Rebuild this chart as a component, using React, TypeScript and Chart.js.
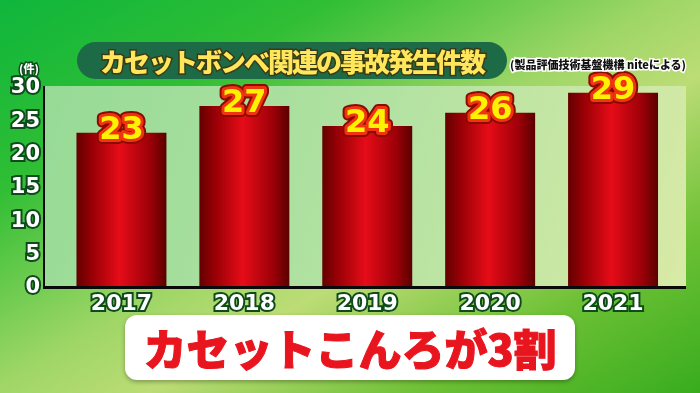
import React, { useEffect, useRef } from "react";
import { Chart, registerables } from "chart.js";

Chart.register(...registerables);

const years = ["2017", "2018", "2019", "2020", "2021"];
const accidents = [23, 27, 24, 26, 29];
const yTicks = [0, 5, 10, 15, 20, 25, 30];
const titleText = "カセットボンベ関連の事故発生件数";
const sourceText = "(製品評価技術基盤機構 niteによる)";
const unitText = "(件)";
const bannerText = "カセットこんろが3割";

const JP = '"Noto Sans CJK JP", "Noto Sans", sans-serif';
const NUM = '"DejaVu Sans", "Noto Sans", sans-serif';

const BAR_PCT = 0.732;

const bgPlugin = {
  id: "plotBg",
  beforeDraw(chart: any) {
    const { ctx, chartArea } = chart;
    const left = 44;
    const right = 686;
    const top = chartArea.top;
    const bottom = chartArea.bottom;
    ctx.save();
    const g = ctx.createLinearGradient(left, top, right, bottom);
    g.addColorStop(0, "#96da96");
    g.addColorStop(0.5, "#b2e2a2");
    g.addColorStop(1, "#d8eaa6");
    ctx.fillStyle = g;
    ctx.fillRect(left, top, right - left, bottom - top + 1);
    ctx.restore();
  },
  afterDatasetsDraw(chart: any) {
    const { ctx, chartArea } = chart;
    ctx.save();
    ctx.strokeStyle = "#0a0a0a";
    ctx.lineWidth = 2;
    ctx.beginPath();
    ctx.moveTo(44, chartArea.top);
    ctx.lineTo(44, chartArea.bottom + 2);
    ctx.stroke();
    ctx.lineWidth = 3;
    ctx.beginPath();
    ctx.moveTo(43, chartArea.bottom + 1.5);
    ctx.lineTo(686, chartArea.bottom + 1.5);
    ctx.stroke();

    // value labels
    const meta = chart.getDatasetMeta(0);
    ctx.font = `bold 32px ${NUM}`;
    ctx.textAlign = "center";
    ctx.textBaseline = "middle";
    ctx.lineJoin = "round";
    meta.data.forEach((bar: any, i: number) => {
      const v = String(chart.data.datasets[0].data[i]);
      const x = bar.x;
      const y = bar.y - 2;
      ctx.strokeStyle = "#8c0a00";
      ctx.lineWidth = 10;
      ctx.strokeText(v, x, y);
      ctx.strokeStyle = "#f03412";
      ctx.lineWidth = 6;
      ctx.strokeText(v, x, y);
      ctx.fillStyle = "#fff200";
      ctx.fillText(v, x, y);
    });
    ctx.restore();
  },
};

function barGradient(c: any) {
  const chart = c.chart;
  const xs = chart.scales && chart.scales.x;
  if (!chart.chartArea || !xs) return "#c00010";
  const cx = xs.getPixelForValue(c.dataIndex);
  const w = (xs.width / years.length) * BAR_PCT;
  const g = chart.ctx.createLinearGradient(cx - w / 2, 0, cx + w / 2, 0);
  g.addColorStop(0, "#640000");
  g.addColorStop(0.18, "#9a0006");
  g.addColorStop(0.48, "#e60c18");
  g.addColorStop(0.82, "#9c0008");
  g.addColorStop(1, "#5a0000");
  return g;
}

export default function App() {
  const ref = useRef<HTMLCanvasElement | null>(null);

  useEffect(() => {
    if (!ref.current) return;
    const chart = new Chart(ref.current, {
      type: "bar",
      data: {
        labels: years,
        datasets: [
          {
            data: accidents,
            backgroundColor: barGradient as any,
            borderWidth: 0,
            barPercentage: BAR_PCT,
            categoryPercentage: 1,
          },
        ],
      },
      options: {
        responsive: false,
        animation: false,
        devicePixelRatio: 1,
        layout: { padding: { left: 0, right: 25.5, top: 86, bottom: 77 } },
        plugins: {
          legend: { display: false },
          tooltip: { enabled: false },
          title: { display: false },
        },
        scales: {
          x: {
            grid: { display: false, drawTicks: false },
            border: { display: false },
            afterFit: (s: any) => {
              s.height = 30;
            },
            ticks: {
              color: "#ffffff",
              font: { family: NUM, size: 22, weight: "bold" },
              padding: 5,
              textStrokeColor: "#0e4a1c",
              textStrokeWidth: 4,
            } as any,
          },
          y: {
            min: 0,
            max: 30,
            grid: { display: false, drawTicks: false },
            border: { display: false },
            afterFit: (s: any) => {
              s.width = 60;
            },
            afterBuildTicks: (s: any) => {
              s.ticks = yTicks.map((v) => ({ value: v }));
            },
            ticks: {
              color: "#ffffff",
              font: { family: NUM, size: 21, weight: "bold" },
              padding: 20,
              labelOffset: 2,
              textStrokeColor: "#0e4a1c",
              textStrokeWidth: 4,
            } as any,
          },
        },
      },
      plugins: [bgPlugin],
    });
    return () => chart.destroy();
  }, []);

  const stroke = (color: string, w: number) => ({
    WebkitTextStroke: `${w}px ${color}`,
    paintOrder: "stroke fill" as any,
  });

  return (
    <div
      style={{
        position: "fixed",
        left: 0,
        top: 0,
        width: 700,
        height: 393,
        overflow: "hidden",
        background:
          "linear-gradient(150deg, #0fb63c 0%, #30be34 24%, #9ed666 48%, #bcdc76 60%, #6cc034 80%, #38ac1e 100%)",
        fontFamily: JP,
      }}
    >
      <canvas
        ref={ref}
        width={700}
        height={393}
        style={{ position: "absolute", left: 0, top: 0, width: 700, height: 393 }}
      />
      <div
        style={{
          position: "absolute",
          left: 77,
          top: 42,
          width: 430,
          height: 37,
          borderRadius: 19,
          background: "#1d6b46",
          display: "flex",
          alignItems: "center",
          justifyContent: "center",
        }}
      >
        <span
          style={{
            color: "#ffe65a",
            fontSize: 26,
            fontWeight: 900,
            letterSpacing: -2,
            lineHeight: "37px",
            whiteSpace: "nowrap",
            ...stroke("#3a3a14", 3),
          }}
        >
          {titleText}
        </span>
      </div>
      <div
        style={{
          position: "absolute",
          left: 510,
          top: 57,
          fontSize: 11,
          fontWeight: 900,
          color: "#111",
          whiteSpace: "nowrap",
          lineHeight: "14px",
          ...stroke("#ffffff", 3),
        }}
      >
        {sourceText}
      </div>
      <div
        style={{
          position: "absolute",
          left: 19,
          top: 61,
          fontSize: 11,
          fontWeight: 900,
          color: "#ffffff",
          whiteSpace: "nowrap",
          lineHeight: "14px",
          ...stroke("#0e4a1c", 3),
        }}
      >
        {unitText}
      </div>
      <div
        style={{
          position: "absolute",
          left: 125,
          top: 315,
          width: 450,
          height: 65,
          borderRadius: 12,
          background: "#ffffff",
          boxShadow: "0 2px 4px rgba(0,0,0,0.3)",
          display: "flex",
          alignItems: "center",
          justifyContent: "center",
        }}
      >
        <span
          style={{
            color: "#e8141e",
            fontSize: 43,
            fontWeight: 900,
            lineHeight: "65px",
            whiteSpace: "nowrap",
            ...stroke("#e8141e", 1),
          }}
        >
          {bannerText}
        </span>
      </div>
    </div>
  );
}
